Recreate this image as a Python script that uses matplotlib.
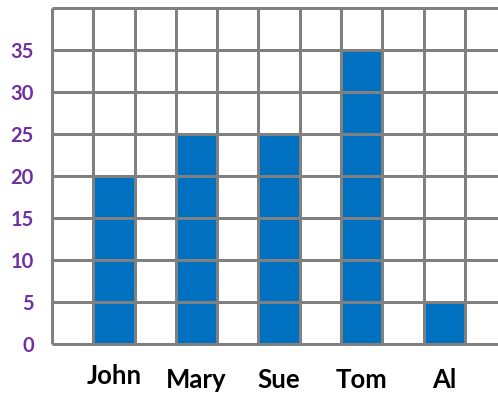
import matplotlib
matplotlib.use("Agg")
import matplotlib.pyplot as plt
import matplotlib.transforms as mtransforms
import numpy as np

names = ["John", "Mary", "Sue", "Tom", "Al"]
values = [20, 25, 25, 35, 5]
y_ticks = [0, 5, 10, 15, 20, 25, 30, 35]

bar_color = "#0070C0"
grid_color = "#808080"
purple = "#7030A0"

fig = plt.figure(figsize=(4.98, 3.94), dpi=100)
ax = fig.add_axes([52 / 498, 50 / 394, 446 / 498, 336 / 394])

# bars sit in every other grid cell
x = np.arange(len(names)) * 2 + 1.5
ax.bar(x, values, width=1.0, color=bar_color, zorder=1)

ax.set_xlim(0, 10.8)
ax.set_ylim(0, 40)

# grid lines drawn over the bars
lw = 3 * 72 / 100
ax.hlines(np.arange(0, 45, 5), 0, 10.8, colors=grid_color, linewidth=lw,
          zorder=3, clip_on=False)
ax.vlines(np.arange(0, 11), 0, 40, colors=grid_color, linewidth=lw,
          zorder=3, clip_on=False)

for s in ax.spines.values():
    s.set_visible(False)

ax.set_yticks(y_ticks)
ax.set_yticklabels([str(v) for v in y_ticks], fontfamily="Lato",
                   fontweight="bold", fontsize=14.5, color=purple)
ax.set_xticks(x)
ax.set_xticklabels(names, fontfamily="Lato", fontweight="bold",
                   fontsize=18.5, color="black")
ax.tick_params(axis="y", length=0, pad=13)
ax.tick_params(axis="x", length=0, pad=17)

# John sits a little higher than the others in the original
lab = ax.get_xticklabels()[0]
lab.set_transform(lab.get_transform() +
                  mtransforms.ScaledTranslation(0, 4 / 100, fig.dpi_scale_trans))

fig.savefig("out.png", dpi=100)
